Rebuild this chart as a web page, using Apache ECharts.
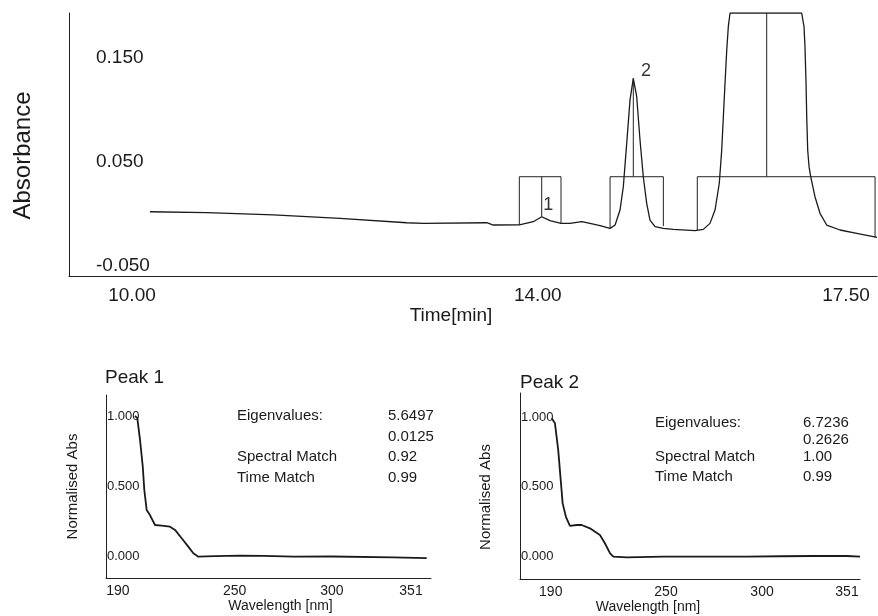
<!DOCTYPE html>
<html lang="en">
  <head>
    <meta charset="UTF-8" />
    <title>Chromatogram</title>
    <script src="https://cdn.jsdelivr.net/npm/echarts@6/dist/echarts.min.js"></script>
    <style>
      html, body { margin: 0; padding: 0; background: #fff; }
      #main { width: 878px; height: 616px; }
    </style>
  </head>
  <body>
    <div id="main"></div>
    <script>
      // chromatogram trace
      var timeMin = [10.000, 10.585, 11.272, 11.960, 12.648, 12.820, 13.474, 13.542, 13.810, 13.954, 14.041, 14.127, 14.240, 14.333, 14.454, 14.539, 14.643, 14.746, 14.798, 14.849, 14.883, 14.918, 14.952, 14.986, 15.021, 15.055, 15.089, 15.124, 15.158, 15.210, 15.296, 15.399, 15.623, 15.708, 15.777, 15.829, 15.873, 15.898, 15.915, 15.932, 15.950, 15.966, 15.984, 16.723, 16.747, 16.757, 16.768, 16.775, 16.785, 16.799, 16.816, 16.860, 16.912, 16.981, 17.118, 17.291, 17.500];
      var absorbance = [0.0017, 0.0008, -0.0014, -0.0046, -0.0089, -0.0095, -0.0089, -0.0111, -0.0109, -0.0079, -0.0031, -0.0069, -0.0095, -0.0095, -0.0079, -0.0095, -0.0118, -0.0143, -0.0111, 0.0034, 0.0259, 0.0678, 0.1096, 0.1305, 0.1127, 0.0709, 0.0355, 0.0098, -0.0063, -0.0127, -0.0143, -0.0153, -0.0166, -0.0153, -0.0095, 0.0034, 0.0292, 0.0613, 0.0934, 0.1257, 0.1578, 0.1803, 0.1935, 0.1935, 0.1803, 0.1610, 0.1257, 0.0934, 0.0613, 0.0452, 0.0355, 0.0162, 0.0002, -0.0111, -0.0159, -0.0191, -0.0230];

      // integration markers (each one a polyline)
      var boxT = [
        [13.810, 13.810, 14.240, 14.240], [14.041, 14.041],
        [14.746, 14.746, 15.296, 15.296], [14.986, 14.986],
        [15.646, 15.646, 17.480, 17.480], [16.362, 16.362]
      ];
      var boxV = [
        [-0.0109, 0.0355, 0.0355, -0.0095], [0.0355, -0.0031],
        [-0.0143, 0.0355, 0.0355, -0.0121], [0.0355, 0.1305],
        [-0.0159, 0.0355, 0.0355, -0.0230], [0.0355, 0.1935]
      ];
      var peakNames = ["1", "2"];
      var peakT = [14.109, 15.117];
      var peakV = [0.0082, 0.1375];

      var timeTicks = [10, 14, 17.5];
      var absTicks = [-0.05, 0.05, 0.15];

      // UV spectra
      var wlPeak1 = [198.8, 200.0, 201.4, 202.8, 203.6, 204.8, 206.5, 209.1, 212.5, 216.8, 219.4, 222.8, 226.2, 228.8, 231.4, 240, 252.8, 265, 280.2, 300, 331.6, 348.8];
      var absPeak1 = [1.0, 0.984, 0.829, 0.639, 0.473, 0.331, 0.295, 0.224, 0.219, 0.212, 0.189, 0.130, 0.070, 0.023, -0.001, 0.003, 0.006, 0.004, -0.001, 0.0, -0.006, -0.011];
      var wlPeak2 = [190.5, 192.2, 193.9, 195.2, 196.2, 197.9, 200.0, 203.5, 206.1, 210.4, 215.6, 218.2, 220.9, 222.6, 229.5, 248.6, 270, 292.0, 310, 326.7, 344.1, 351];
      var absPeak2 = [0.991, 0.955, 0.763, 0.548, 0.381, 0.285, 0.219, 0.226, 0.226, 0.202, 0.154, 0.095, 0.023, -0.001, -0.006, -0.001, 0.0, -0.001, 0.002, 0.004, 0.004, -0.001];

      var wlTicks = [190, 250, 300, 351];
      var normTicks = [0, 0.5, 1];

      var infoLabels = ["Eigenvalues:", "", "Spectral Match", "Time Match"];
      var peak1Info = ["5.6497", "0.0125", "0.92", "0.99"];
      var peak2Info = ["6.7236", "0.2626", "1.00", "0.99"];

      var FONT = "'Liberation Sans', Arial, sans-serif";
      var INK = "#1a1a1a";

      function pairs(xs, ys) {
        var out = [];
        for (var i = 0; i < xs.length; i++) out.push([xs[i], ys[i]]);
        return out;
      }

      var axisLineStyle = { show: true, onZero: false, lineStyle: { color: "#222", width: 1 } };

      var series = [];
      series.push({
        type: "line",
        xAxisIndex: 0,
        yAxisIndex: 0,
        data: pairs(timeMin, absorbance),
        showSymbol: false,
        lineStyle: { color: INK, width: 1.3 },
        silent: true
      });
      for (var b = 0; b < boxT.length; b++) {
        series.push({
          type: "line",
          xAxisIndex: 0,
          yAxisIndex: 0,
          data: pairs(boxT[b], boxV[b]),
          showSymbol: false,
          lineStyle: { color: "#222", width: 1 },
          silent: true
        });
      }
      var peakData = [];
      for (var p = 0; p < peakNames.length; p++) {
        peakData.push({ name: peakNames[p], value: [peakT[p], peakV[p]] });
      }
      series.push({
        type: "scatter",
        xAxisIndex: 0,
        yAxisIndex: 0,
        symbolSize: 1,
        itemStyle: { color: "rgba(0,0,0,0)" },
        data: peakData,
        silent: true,
        label: {
          show: true,
          position: "inside",
          formatter: "{b}",
          fontFamily: FONT,
          fontSize: 18,
          color: "#000"
        }
      });
      series.push({
        type: "line",
        xAxisIndex: 1,
        yAxisIndex: 1,
        data: pairs(wlPeak1, absPeak1),
        showSymbol: false,
        lineStyle: { color: INK, width: 1.8 }
      });
      series.push({
        type: "line",
        xAxisIndex: 2,
        yAxisIndex: 2,
        data: pairs(wlPeak2, absPeak2),
        showSymbol: false,
        lineStyle: { color: INK, width: 1.8 }
      });

      // info texts beside the spectra
      var graphic = [];
      function addInfo(labelX, valueX, rows, values) {
        for (var i = 0; i < rows.length; i++) {
          if (infoLabels[i]) {
            graphic.push({
              type: "text", x: labelX, y: rows[i],
              style: { text: infoLabels[i], fill: INK, font: "15px " + FONT, verticalAlign: "middle" }
            });
          }
          graphic.push({
            type: "text", x: valueX, y: rows[i],
            style: { text: values[i], fill: INK, font: "15px " + FONT, verticalAlign: "middle" }
          });
        }
      }
      addInfo(237, 388, [416, 437, 457, 478], peak1Info);
      addInfo(655, 803, [423, 440, 457, 477], peak2Info);

      function wlAxis(idx, min, max, lastPad, namePad) {
        return {
          type: "value",
          gridIndex: idx,
          min: min,
          max: max,
          axisLine: axisLineStyle,
          axisTick: { show: false },
          splitLine: { show: false },
          axisLabel: {
            customValues: wlTicks,
            margin: 6,
            fontFamily: FONT,
            fontSize: 14,
            color: INK,
            formatter: function (v) {
              return v === 351 ? "{e|351}" : String(v);
            },
            rich: { e: { padding: [0, lastPad, 0, 0], fontFamily: FONT, fontSize: 14, color: INK } }
          },
          name: "Wavelength [nm]",
          nameLocation: "middle",
          nameGap: 13,
          nameTextStyle: { fontFamily: FONT, fontSize: 14, color: INK, padding: namePad }
        };
      }
      function normAxis(idx, min, max, nameGap, namePad) {
        return {
          type: "value",
          gridIndex: idx,
          min: min,
          max: max,
          axisLine: axisLineStyle,
          axisTick: { show: false },
          splitLine: { show: false },
          axisLabel: {
            inside: true,
            margin: 1,
            customValues: normTicks,
            fontFamily: FONT,
            fontSize: 13,
            color: INK,
            formatter: function (v) { return v.toFixed(3); }
          },
          name: "Normalised Abs",
          nameLocation: "middle",
          nameRotate: 90,
          nameGap: nameGap,
          nameTextStyle: { fontFamily: FONT, fontSize: 15, color: INK, padding: namePad }
        };
      }

      var option = {
        backgroundColor: "#fff",
        animation: false,
        textStyle: { fontFamily: FONT },
        title: [
          { text: "Peak 1", left: 105, top: 368, padding: 0, textStyle: { fontFamily: FONT, fontSize: 19, fontWeight: "normal", color: INK } },
          { text: "Peak 2", left: 520, top: 373, padding: 0, textStyle: { fontFamily: FONT, fontSize: 19, fontWeight: "normal", color: INK } }
        ],
        grid: [
          { left: 69, top: 13, width: 808, height: 263, containLabel: false, outerBoundsMode: "none" },
          { left: 106, top: 395, width: 325, height: 183, containLabel: false, outerBoundsMode: "none" },
          { left: 520, top: 393, width: 340, height: 186, containLabel: false, outerBoundsMode: "none" }
        ],
        xAxis: [
          {
            type: "value",
            gridIndex: 0,
            min: 9.1643,
            max: 17.5,
            axisLine: axisLineStyle,
            axisTick: { show: false },
            splitLine: { show: false },
            axisLabel: {
              customValues: timeTicks,
              margin: 10,
              fontFamily: FONT,
              fontSize: 19,
              color: INK,
              formatter: function (v) {
                var s = v.toFixed(2);
                if (v === 10) return "{a|" + s + "}";
                if (v === 17.5) return "{b|" + s + "}";
                return s;
              },
              rich: {
                a: { padding: [0, 36, 0, 0], fontFamily: FONT, fontSize: 19, color: INK },
                b: { padding: [0, 62, 0, 0], fontFamily: FONT, fontSize: 19, color: INK }
              }
            },
            name: "Time[min]",
            nameLocation: "middle",
            nameGap: 28,
            nameTextStyle: { fontFamily: FONT, fontSize: 19, color: INK, padding: [0, 44, 0, 0] }
          },
          wlAxis(1, 183.9, 351, 40, [0, 0, 0, 24]),
          wlAxis(2, 174.0, 351, 26, [0, 84, 0, 0])
        ],
        yAxis: [
          {
            type: "value",
            gridIndex: 0,
            min: -0.0603,
            max: 0.1935,
            axisLine: axisLineStyle,
            axisTick: { show: false },
            splitLine: { show: false },
            axisLabel: {
              inside: true,
              margin: 27,
              customValues: absTicks,
              fontFamily: FONT,
              fontSize: 19,
              color: INK,
              formatter: function (v) { return v.toFixed(3); }
            },
            name: "Absorbance",
            nameLocation: "middle",
            nameRotate: 90,
            nameGap: 34,
            nameTextStyle: { fontFamily: FONT, fontSize: 24, color: INK, padding: [0, 22, 0, 0] }
          },
          normAxis(1, -0.153, 1.149, 26, [0, 0, 0, 0]),
          normAxis(2, -0.161, 1.172, 27, [0, 22, 0, 0])
        ],
        graphic: graphic,
        series: series
      };

      var myChart = echarts.init(document.getElementById("main"), null, { renderer: "canvas" });
      myChart.setOption(option);
    </script>
  </body>
</html>
